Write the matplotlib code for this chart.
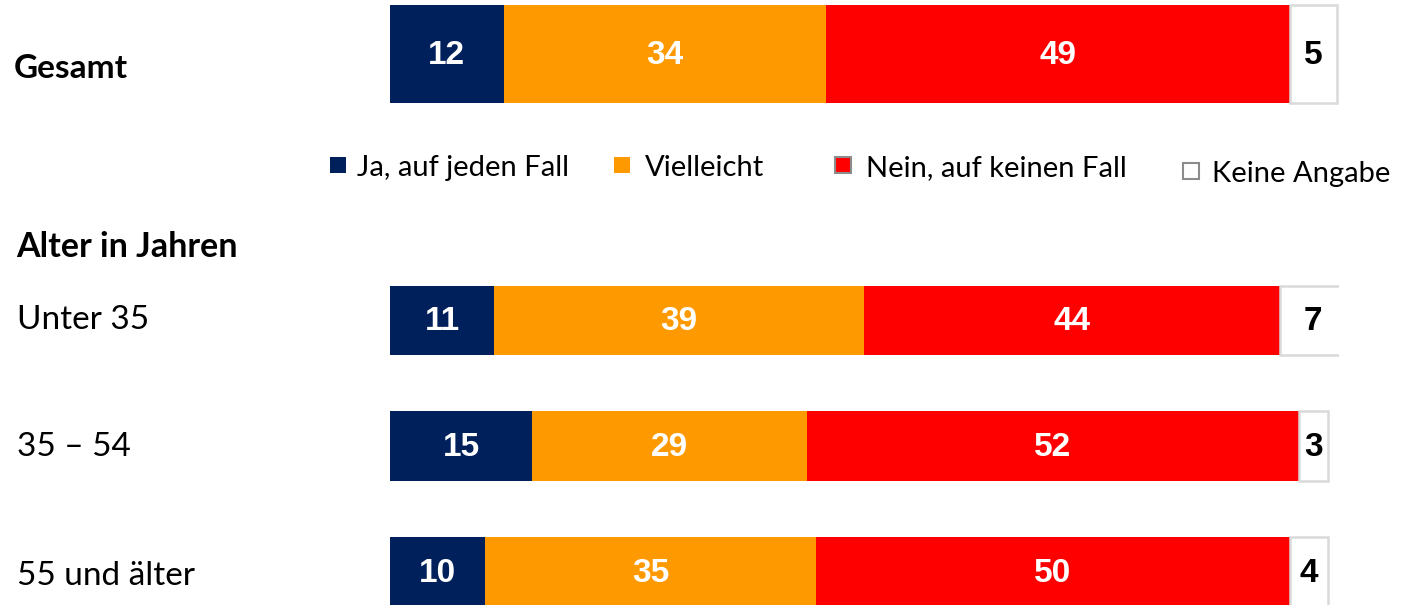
import matplotlib
matplotlib.use("Agg")
import matplotlib.pyplot as plt
from matplotlib.patches import Rectangle

# ---- data ----
categories = ["Gesamt", "Unter 35", "35 – 54", "55 und älter"]
series_names = ["Ja, auf jeden Fall", "Vielleicht", "Nein, auf keinen Fall", "Keine Angabe"]
ja = [12, 11, 15, 10]
vielleicht = [34, 39, 29, 35]
nein = [49, 44, 52, 50]
keine = [5, 7, 3, 4]
group_header = "Alter in Jahren"

# ---- style ----
colors = ["#00205B", "#FF9900", "#FF0000", "#FFFFFF"]
edge_keine = "#D9D9D9"
W, H = 1405, 605
fig = plt.figure(figsize=(W / 100, H / 100), dpi=100)
ax = fig.add_axes([0, 0, 1, 1])
px_per_unit = 9.47
x0_px = 390
ax.set_xlim(-x0_px / px_per_unit, (W - x0_px) / px_per_unit)
ax.set_ylim(H, 0)
ax.axis("off")

# clip bars at 100 %
clip = Rectangle((0, 0), 100.2, H, transform=ax.transData, visible=False)
ax.add_patch(clip)

# layout (pixel rows)
bar_y = [54, 320.5, 446, 572]
bar_h = [98, 69, 70, 70]
label_y = [69, 320, 447, 576]

series = [ja, vielleicht, nein, keine]
label_font = ["Liberation Sans", "DejaVu Sans"]
text_font = ["Lato", "DejaVu Sans"]

for i, cat in enumerate(categories):
    left = 0
    for s, vals in enumerate(series):
        v = vals[i]
        if s == 3:
            bars = ax.barh(bar_y[i], v, left=left, height=bar_h[i], color=colors[s],
                           edgecolor=edge_keine, linewidth=1.8)
            tc = "black"
        else:
            bars = ax.barh(bar_y[i], v, left=left, height=bar_h[i], color=colors[s],
                           edgecolor="none")
            tc = "white"
        for b in bars:
            b.set_clip_path(clip)
        ax.text(left + v / 2, bar_y[i] + 1, str(v), ha="center", va="center",
                color=tc, fontsize=24, fontweight="bold", family=label_font)
        left += v

def ftext(xp, yp, s, **kw):
    fig.text(xp / W, 1 - yp / H, s, va="center", ha="left", family=text_font, **kw)

ftext(14, label_y[0], categories[0], fontsize=24, fontweight="bold")
ftext(16, 247, group_header, fontsize=24.5, fontweight="bold")
for i in range(1, 4):
    ftext(17, label_y[i], categories[i], fontsize=24)

# legend
leg_x = [330, 614, 835, 1183]
leg_tx = [357, 645, 866, 1212]
leg_y = [165, 165, 165, 171]
leg_edges = ["none", "none", "#8C8C8C", "#8C8C8C"]
for k in range(4):
    sq = 16
    r = Rectangle((leg_x[k] / W, 1 - (leg_y[k] + sq / 2) / H), sq / W, sq / H,
                  transform=fig.transFigure, facecolor=colors[k],
                  edgecolor=leg_edges[k], linewidth=1.5 if leg_edges[k] != "none" else 0)
    fig.patches.append(r)
    ftext(leg_tx[k], leg_y[k] + 3, series_names[k], fontsize=21)

fig.savefig("out.png", dpi=100)
